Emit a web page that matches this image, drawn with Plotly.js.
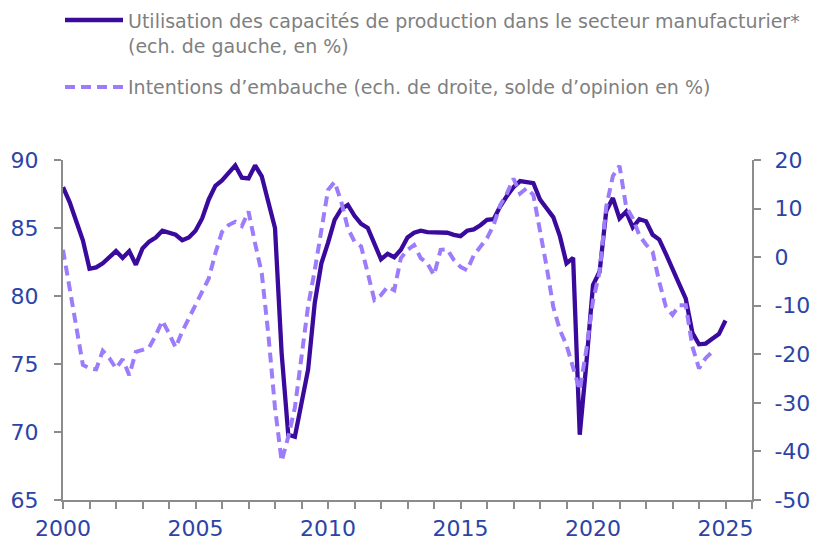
<!DOCTYPE html>
<html>
<head>
<meta charset="utf-8">
<script src="https://cdn.plot.ly/plotly-3.0.1.min.js"></script>
<style>
html,body{margin:0;padding:0;background:#fff;}
#chart{width:819px;height:540px;}
</style>
</head>
<body>
<div id="chart"></div>
<script>
// Quarterly series, first quarter plotted at 2000.0
const startYear = 2000;
const stepYears = 0.25;

// Utilisation des capacités de production (left axis, %)
const capacityUtilisation = [
  88.0, 86.9, 85.5, 84.1,
  82.0, 82.1, 82.4, 82.9,
  83.3, 82.8, 83.3, 82.3,
  83.5, 84.0, 84.3, 84.8,
  84.65, 84.5, 84.1, 84.3,
  84.8, 85.7, 87.1, 88.1,
  88.5, 89.1, 89.6, 88.7,
  88.65, 89.6, 88.8, 86.9,
  85.0, 75.8, 69.8, 69.65,
  72.1, 74.6, 79.5, 82.4,
  83.9, 85.6, 86.4, 86.7,
  85.9, 85.3, 85.0, 83.9,
  82.7, 83.1, 82.85, 83.4,
  84.3, 84.65, 84.8, 84.7,
  84.7, 84.65, 84.65, 84.5,
  84.4, 84.8, 84.9, 85.2,
  85.6, 85.65, 86.6, 87.35,
  88.0, 88.45, 88.35, 88.3,
  87.1, 86.45, 85.8, 84.4,
  82.4, 82.8, 69.8, 75.05,
  80.8, 81.8, 86.25, 87.2,
  85.7, 86.2, 85.05, 85.65,
  85.5, 84.5, 84.15, 83.1,
  81.9, 80.9, 79.8, 77.3,
  76.45, 76.5, 76.85, 77.2,
  78.2
];

// Intentions d'embauche (right axis, solde d'opinion en %)
const hiringIntentions = [
  1.5, -6.1, -14.3, -22.2,
  -22.9, -23.1, -19.3, -20.8,
  -22.9, -21.0, -24.3, -19.5,
  -19.1, -18.6, -16.1, -13.1,
  -15.7, -18.6, -15.3, -12.6,
  -10.0, -7.5, -4.4, 0.8,
  5.2, 6.6, 7.3, 6.4,
  9.4, 2.8, -3.3, -16.0,
  -31.0, -42.0, -37.0, -31.0,
  -20.0, -10.0, -2.7, 5.6,
  13.8, 15.5, 11.4, 5.9,
  3.2, 2.2, -3.3, -8.8,
  -7.8, -6.1, -6.8, -0.2,
  1.5, 2.5, -0.2, -1.3,
  -3.7, 1.5, 1.6, -0.6,
  -2.0, -2.7, 0.4, 2.2,
  3.9, 6.6, 10.7, 13.1,
  16.2, 13.1, 14.2, 12.8,
  5.6, -2.0, -10.2, -15.0,
  -18.1, -22.6, -27.4, -19.0,
  -9.0, -3.0, 10.4, 16.7,
  18.8, 10.4, 8.0, 4.5,
  2.6, 1.1, -5.1, -10.2,
  -11.9, -9.9, -9.9, -18.4,
  -22.9, -20.8, -19.5
];

const legendLabels = [
  "Utilisation des capacités de production dans le secteur manufacturier*<br>(ech. de gauche, en %)",
  "Intentions d’embauche (ech. de droite, solde d’opinion en %)"
];

const xRange = [2000, 2026];
const leftRange = [65, 90];
const rightRange = [-50, 20];
const xTickVals = [2000, 2005, 2010, 2015, 2020, 2025];
const leftTickVals = [65, 70, 75, 80, 85, 90];
const rightTickVals = [-50, -40, -30, -20, -10, 0, 10, 20];

const xCap = capacityUtilisation.map((_, i) => startYear + i * stepYears);
const xHir = hiringIntentions.map((_, i) => startYear + i * stepYears);

const dark = '#3a0a9c';
const light = '#9c7cfb';
const tickBlue = '#2c44a6';
const axisGrey = '#8c8c8c';
const legendGrey = '#7f7f7f';

const traces = [
  {
    x: xHir, y: hiringIntentions, yaxis: 'y2', type: 'scatter', mode: 'lines',
    line: {color: light, width: 4, dash: '10px,6px'},
    name: 'hiring', showlegend: false, hoverinfo: 'skip'
  },
  {
    x: xCap, y: capacityUtilisation, type: 'scatter', mode: 'lines',
    line: {color: dark, width: 4.3},
    name: 'cap', showlegend: false, hoverinfo: 'skip'
  }
];

// plot area in pixels: left 63, right 752, top 160, bottom 500
const L = 63, R = 752, T = 160, B = 500;
const px = v => (v - L) / (R - L);
const py = v => (B - v) / (B - T);

const tickFont = {family: 'DejaVu Sans, sans-serif', size: 22, color: tickBlue};

const layout = {
  width: 819, height: 540,
  margin: {l: L, r: 819 - R, t: T, b: 540 - B, pad: 0},
  paper_bgcolor: '#ffffff', plot_bgcolor: '#ffffff',
  showlegend: false,
  font: {family: 'DejaVu Sans, sans-serif', color: tickBlue, size: 21},
  xaxis: {
    range: xRange, tickvals: xTickVals, ticktext: xTickVals.map(String),
    showgrid: false, zeroline: false, showline: true, linecolor: axisGrey, linewidth: 2,
    ticks: 'outside', ticklen: 7, tickwidth: 2, tickcolor: axisGrey,
    minor: {dtick: 1, tick0: 2000, ticks: 'outside', ticklen: 7, tickwidth: 2, tickcolor: axisGrey, showgrid: false},
    tickfont: tickFont, ticklabelstandoff: 1,
    fixedrange: true
  },
  yaxis: {
    range: leftRange, tickvals: leftTickVals, ticktext: leftTickVals.map(String),
    showgrid: false, zeroline: false, showline: true, linecolor: axisGrey, linewidth: 2,
    ticks: 'outside', ticklen: 7, tickwidth: 2, tickcolor: axisGrey,
    tickfont: tickFont, ticklabelstandoff: 11,
    fixedrange: true
  },
  yaxis2: {
    range: rightRange, tickvals: rightTickVals, ticktext: rightTickVals.map(String),
    overlaying: 'y', side: 'right',
    showgrid: false, zeroline: false, showline: true, linecolor: axisGrey, linewidth: 2,
    ticks: 'outside', ticklen: 7, tickwidth: 2, tickcolor: axisGrey,
    tickfont: tickFont, ticklabelstandoff: 9,
    fixedrange: true
  },
  shapes: [
    {type: 'line', xref: 'paper', yref: 'paper', x0: px(65), x1: px(123), y0: py(20), y1: py(20),
     line: {color: dark, width: 4.3}},
    {type: 'line', xref: 'paper', yref: 'paper', x0: px(65), x1: px(123), y0: py(87), y1: py(87),
     line: {color: light, width: 4, dash: '10px,6px'}}
  ],
  annotations: [
    {xref: 'paper', yref: 'paper', x: px(126), y: py(8), xanchor: 'left', yanchor: 'top',
     text: legendLabels[0], showarrow: false, align: 'left',
     font: {family: 'DejaVu Sans, sans-serif', size: 19, color: legendGrey}},
    {xref: 'paper', yref: 'paper', x: px(126), y: py(87), xanchor: 'left', yanchor: 'middle',
     text: legendLabels[1], showarrow: false, align: 'left',
     font: {family: 'DejaVu Sans, sans-serif', size: 19, color: legendGrey}}
  ]
};

Plotly.newPlot('chart', traces, layout, {displayModeBar: false, staticPlot: true});
</script>
</body>
</html>
